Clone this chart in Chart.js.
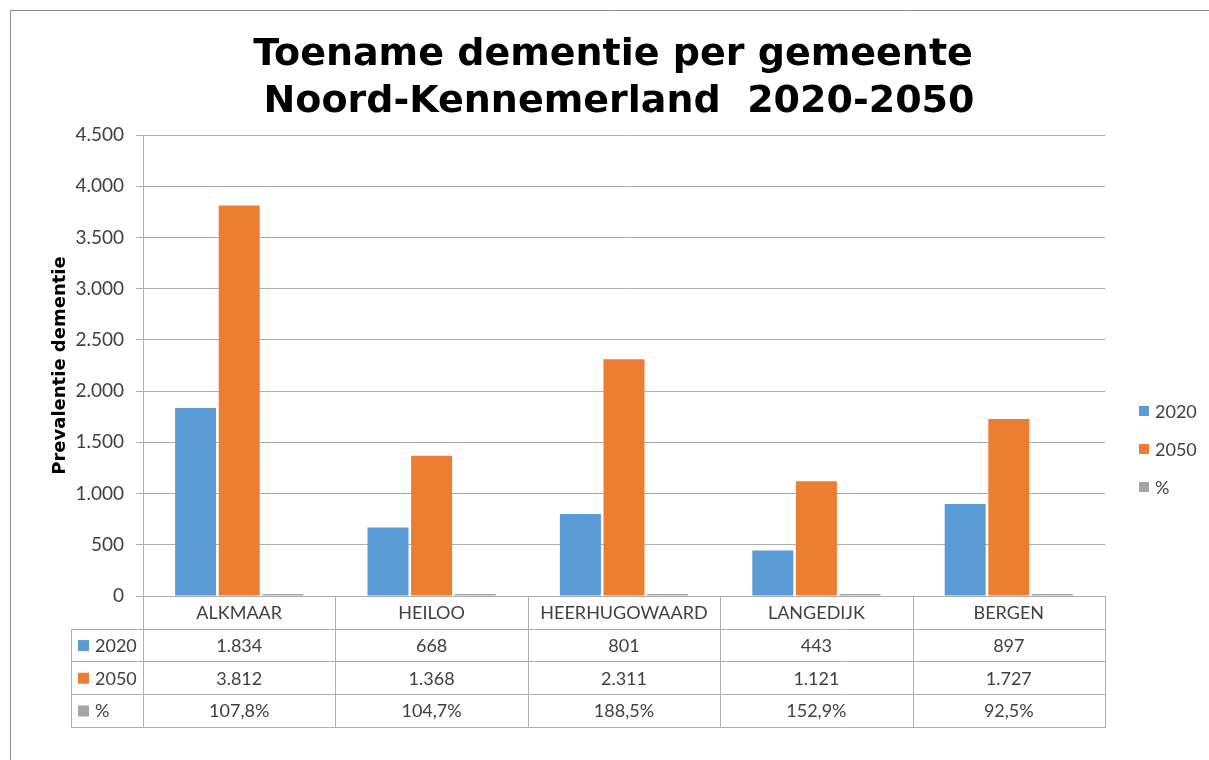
<!DOCTYPE html>
<html>
<head>
<meta charset="utf-8">
<script src="https://cdn.jsdelivr.net/npm/chart.js@4.4.1/dist/chart.umd.min.js"></script>
<style>
  html, body { margin: 0; padding: 0; background: #fff; }
  #wrap { width: 1209px; height: 760px; }
</style>
</head>
<body>
<div id="wrap"><canvas id="dementieChart" width="1209" height="760"></canvas></div>
<script>
let gemeenten = ["ALKMAAR", "HEILOO", "HEERHUGOWAARD", "LANGEDIJK", "BERGEN"];
let reeksNamen = ["2020", "2050", "%"];
let waarden2020 = [1834, 668, 801, 443, 897];
let waarden2050 = [3812, 1368, 2311, 1121, 1727];
let toename = [1.078, 1.047, 1.885, 1.529, 0.925];
let titelRegels = ["Toename dementie per gemeente", "Noord-Kennemerland  2020-2050"];
let yAsTitel = "Prevalentie dementie";
let kleuren = ["#5B9BD5", "#ED7D31", "#A5A5A5"];

let tekstKleur = "#404040";
let lijnKleur = "#AFAFAF";
let tabelFont = "18px Lato";

/* ---------- FORMAT (Dutch style) ---------- */
function fmtNum(n) {
    return String(n).replace(/\B(?=(\d{3})+(?!\d))/g, ".");
}

function fmtPct(v) {
    return (v * 100).toFixed(1).replace(".", ",") + "%";
}

/* ---------- FRAME, TITLE, DATA TABLE, LEGEND ---------- */
const tabelPlugin = {
    id: "tabelPlugin",
    beforeDraw(chart) {
        let ctx = chart.ctx;
        ctx.save();
        ctx.fillStyle = "#fff";
        ctx.fillRect(0, 0, chart.width, chart.height);

        // outer frame
        ctx.strokeStyle = "#8C8C8C";
        ctx.lineWidth = 1;
        ctx.beginPath();
        ctx.moveTo(10.5, chart.height);
        ctx.lineTo(10.5, 10.5);
        ctx.lineTo(chart.width, 10.5);
        ctx.stroke();

        // title
        ctx.fillStyle = "#000";
        ctx.font = "bold 38px 'DejaVu Sans'";
        ctx.textAlign = "center";
        ctx.textBaseline = "alphabetic";
        ctx.fillText(titelRegels[0], 613, 65);
        ctx.fillText(titelRegels[1], 619, 112);
        ctx.restore();
    },
    afterDraw(chart) {
        let ctx = chart.ctx;
        let x = chart.scales.x;
        let area = chart.chartArea;
        let stap = x.getPixelForValue(1) - x.getPixelForValue(0);
        let tabelLinks = 71;
        let rijen = [0, 1, 2, 3, 4].map(i => area.bottom + i * 32.7);
        let reeksen = [waarden2020, waarden2050, toename];

        ctx.save();
        ctx.strokeStyle = lijnKleur;
        ctx.lineWidth = 1;
        ctx.beginPath();
        // horizontal lines
        ctx.moveTo(area.left, Math.round(rijen[0]) + 0.5);
        ctx.lineTo(area.right, Math.round(rijen[0]) + 0.5);
        for (let r = 1; r < rijen.length; r++) {
            ctx.moveTo(tabelLinks, Math.round(rijen[r]) + 0.5);
            ctx.lineTo(area.right, Math.round(rijen[r]) + 0.5);
        }
        // vertical lines
        ctx.moveTo(tabelLinks + 0.5, Math.round(rijen[1]));
        ctx.lineTo(tabelLinks + 0.5, Math.round(rijen[4]) + 1);
        for (let i = 0; i <= gemeenten.length; i++) {
            let xp = Math.round(x.getPixelForValue(i) - stap / 2) + 0.5;
            ctx.moveTo(xp, Math.round(rijen[0]));
            ctx.lineTo(xp, Math.round(rijen[4]) + 1);
        }
        ctx.stroke();

        // text in cells
        ctx.font = tabelFont;
        ctx.fillStyle = tekstKleur;
        ctx.textBaseline = "middle";
        ctx.textAlign = "center";
        gemeenten.forEach((g, i) => {
            let cx = x.getPixelForValue(i);
            ctx.fillText(g, cx, (rijen[0] + rijen[1]) / 2 + 1);
            reeksen.forEach((reeks, r) => {
                let tekst = r === 2 ? fmtPct(reeks[i]) : fmtNum(reeks[i]);
                ctx.fillText(tekst, cx, (rijen[r + 1] + rijen[r + 2]) / 2 + 1);
            });
        });

        // row labels with colour keys
        ctx.textAlign = "left";
        reeksNamen.forEach((naam, r) => {
            let cy = (rijen[r + 1] + rijen[r + 2]) / 2;
            ctx.fillStyle = kleuren[r];
            ctx.fillRect(78, cy - 5, 11, 11);
            ctx.fillStyle = tekstKleur;
            ctx.fillText(naam, 95, cy + 1);
        });

        // legend on the right
        reeksNamen.forEach((naam, r) => {
            let cy = 411 + r * 38;
            ctx.fillStyle = kleuren[r];
            ctx.fillRect(1139, cy - 5, 10, 10);
            ctx.fillStyle = tekstKleur;
            ctx.fillText(naam, 1155, cy + 1);
        });
        ctx.restore();
    }
};

/* ---------- CHART ---------- */
let ctx = document.getElementById("dementieChart").getContext("2d");

let chart = new Chart(ctx, {
    type: "bar",
    data: {
        labels: gemeenten,
        datasets: [
            { label: reeksNamen[0], data: waarden2020, backgroundColor: kleuren[0] },
            { label: reeksNamen[1], data: waarden2050, backgroundColor: kleuren[1] },
            { label: reeksNamen[2], data: toename, backgroundColor: kleuren[2], minBarLength: 2 }
        ]
    },
    options: {
        responsive: false,
        animation: false,
        devicePixelRatio: 1,
        categoryPercentage: 0.68,
        barPercentage: 0.94,
        layout: {
            padding: { left: 46, right: 104, top: 135, bottom: 164 }
        },
        plugins: {
            legend: { display: false },
            title: { display: false },
            tooltip: { enabled: false }
        },
        scales: {
            x: {
                display: false,
                grid: { display: false }
            },
            y: {
                min: 0,
                max: 4500,
                afterFit(scale) { scale.width = 97; },
                ticks: {
                    stepSize: 500,
                    padding: 12,
                    color: tekstKleur,
                    font: { family: "Lato", size: 19 },
                    callback: v => fmtNum(v)
                },
                grid: {
                    color: lijnKleur,
                    lineWidth: 1,
                    tickLength: 7
                },
                border: { color: lijnKleur, width: 1 },
                title: {
                    display: true,
                    text: yAsTitel,
                    color: "#000",
                    font: { family: "'DejaVu Sans'", size: 18, weight: "bold" }
                }
            }
        }
    },
    plugins: [tabelPlugin]
});
</script>
</body>
</html>
